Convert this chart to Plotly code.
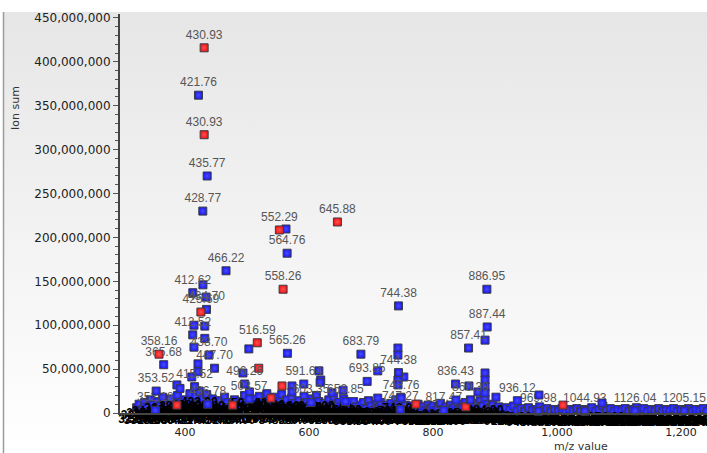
import base64
import plotly.graph_objects as go

# ---------------- data (m/z, ion sum in millions) ----------------
blue_lbl_mz = [421.76, 435.77, 428.77, 564.76, 466.22, 412.62, 434.70, 412.52, 438.70, 447.70,
               415.52, 353.52, 365.68, 496.26, 503.57, 565.26, 591.64, 658.85, 683.79, 693.85,
               744.38, 744.38, 748.76, 836.43, 857.41, 860.39, 886.95, 887.44, 936.12, 436.78, 603.35]
blue_lbl_int = [362, 270, 230, 182, 162, 137, 118, 89, 66, 51,
                30, 25, 55, 33, 16, 68, 33, 13, 67, 36,
                122, 46, 17, 33, 74, 15, 141, 98, 14, 10, 12]

red_lbl_mz = [430.93, 430.93, 552.29, 645.88, 558.26, 425.69, 358.16, 516.59]
red_lbl_int = [416, 317, 208.5, 217.6, 141, 115, 67, 80]

blue_mz = [562.9, 429.0, 434.0, 414.5, 432.0, 414.5, 432.0, 421.0, 421.0, 411.0,
           503.0, 493.5, 572.6, 572.6, 616.0, 619.0, 655.0, 884.0, 743.5, 743.5,
           711.0, 753.0, 743.5, 743.5, 858.0, 872.6, 884.0, 884.0, 884.0, 884.0,
           901.6, 971.0, 837.0, 711.0, 1072.6, 387.0, 618.0, 637.0, 392.0]
blue_int = [209.6, 146, 132, 100, 99, 75, 85, 56, 47, 41,
            73, 45.6, 30.8, 24, 48, 37.6, 26, 83, 74, 66,
            48, 41, 37.6, 32, 30.8, 24, 45.6, 37.6, 29.6, 22.8,
            18, 20.5, 14.8, 17, 11.4, 32, 35, 23, 28]

red_mz = [556.5, 538.7, 387.0, 477.0, 772.6, 853.0, 1009.7, 519.0]
red_int = [30.8, 17, 9, 9, 10, 7, 9, 51]

low_lbl_mz = [969.98, 1044.93, 1126.04, 1205.15, 817.47, 747.27, 352.18]
low_lbl_int = [2, 2, 2.5, 2.5, 3, 4, 3]

base_mz = [322, 326, 331, 335, 339, 344, 348, 352, 356, 360, 364, 368, 372, 376, 380, 384, 388,
           392, 396, 400, 404, 408, 411, 414, 417, 420, 423, 426, 429, 432, 435, 438, 441, 444,
           448, 452, 456, 460, 464, 468, 472, 476, 480, 484, 488, 492, 496, 500, 504, 508, 512,
           516, 520, 524, 528, 532, 536, 540, 544, 548, 552, 556, 560, 564, 568, 572, 576, 580,
           584, 588, 592, 596, 600, 604, 608, 612, 616, 620, 624, 628, 632, 636, 640, 644, 648,
           652, 656, 660, 664, 668, 672, 676, 680, 684, 688, 692, 696, 700, 704, 708, 712, 716,
           720, 724, 728, 732, 736, 740, 744, 748, 752, 756, 760, 764, 768, 772, 776, 780, 784,
           788, 792, 796, 800, 804, 808, 812, 816, 820, 824, 828, 832, 836, 840, 844, 848, 852,
           856, 860, 864, 868, 872, 876, 880, 884, 888, 892, 896, 900, 906, 912, 918, 924, 930,
           936, 942, 948, 954, 960, 966, 972, 978, 984, 990, 996, 1002, 1008, 1014, 1020, 1026,
           1032, 1038, 1044, 1050, 1056, 1062, 1068, 1074, 1080, 1086, 1092, 1098, 1104, 1110,
           1116, 1122, 1128, 1134, 1140, 1146, 1152, 1158, 1164, 1170, 1176, 1182, 1188, 1194,
           1200, 1206, 1212, 1218, 1224, 1230, 1236, 1242]
base_int = [6, 10, 4, 12, 7, 15, 9, 5, 13, 8, 18, 6, 11, 16, 4, 9, 20,
            12, 7, 15, 10, 22, 5, 14, 19, 8, 25, 12, 17, 6, 21, 13, 9, 16,
            11, 5, 14, 8, 18, 12, 6, 10, 15, 4, 9, 13, 20, 7, 24, 11, 16,
            6, 19, 12, 8, 22, 14, 9, 18, 5, 13, 21, 10, 15, 7, 17, 11, 5,
            14, 8, 19, 12, 6, 16, 10, 20, 13, 7, 11, 4, 15, 9, 18, 6, 12,
            8, 16, 5, 10, 3, 13, 7, 4, 9, 12, 5, 14, 8, 3, 10, 6, 12,
            4, 9, 5, 11, 7, 15, 10, 18, 6, 9, 4, 8, 3, 6, 10, 4, 7,
            3, 9, 5, 8, 3, 6, 11, 4, 7, 3, 9, 5, 8, 4, 10, 6, 12,
            5, 9, 7, 11, 5, 14, 8, 16, 10, 6, 9, 4, 7, 3, 6, 4, 8,
            3, 5, 2, 6, 3, 4, 7, 3, 5, 2, 4, 3, 5, 2, 4, 3,
            5, 2, 4, 3, 6, 2, 4, 8, 3, 5, 2, 4, 3, 5,
            2, 4, 6, 3, 5, 2, 4, 3, 5, 2, 4, 3, 5, 2,
            4, 3, 5, 2, 4, 3, 5, 2]

y_ticks = [0, 50, 100, 150, 200, 250, 300, 350, 400, 450]
x_ticks = [400, 600, 800, 1000, 1200]

M = 1e6
BLUE = "#1c1cf2"
RED = "#f01818"
EDGE = "#3c3c46"
LBL_FONT = dict(family="Liberation Sans, Arial", size=12, color="#565656")


def mk(color, center):
    return dict(symbol="square", size=8, color=color,
                line=dict(color=EDGE, width=1),
                gradient=dict(type="radial", color=center))


fig = go.Figure()

fig.add_trace(go.Scatter(
    x=base_mz, y=[v * M for v in base_int], mode="markers+text",
    text=[f"{v:.2f}" for v in base_mz], textposition="bottom center",
    textfont=dict(family="Liberation Sans, Arial", size=12, color="#000000", weight="bold"),
    marker=mk(BLUE, "#4a4aff"), cliponaxis=False, hoverinfo="skip", showlegend=False))

fig.add_trace(go.Scatter(
    x=low_lbl_mz, y=[v * M for v in low_lbl_int], mode="markers+text",
    text=[f"{v:.2f}" for v in low_lbl_mz], textposition="top center", textfont=LBL_FONT,
    marker=mk(BLUE, "#4a4aff"), cliponaxis=False, showlegend=False))

fig.add_trace(go.Scatter(
    x=blue_mz, y=[v * M for v in blue_int], mode="markers",
    marker=mk(BLUE, "#4a4aff"), cliponaxis=False, showlegend=False))

fig.add_trace(go.Scatter(
    x=red_mz, y=[v * M for v in red_int], mode="markers",
    marker=mk(RED, "#ff5050"), cliponaxis=False, showlegend=False))

fig.add_trace(go.Scatter(
    x=blue_lbl_mz, y=[v * M for v in blue_lbl_int], mode="markers+text",
    text=[f"{v:.2f}" for v in blue_lbl_mz], textposition="top center", textfont=LBL_FONT,
    marker=mk(BLUE, "#4a4aff"), cliponaxis=False, showlegend=False))

fig.add_trace(go.Scatter(
    x=red_lbl_mz, y=[v * M for v in red_lbl_int], mode="markers+text",
    text=[f"{v:.2f}" for v in red_lbl_mz], textposition="top center", textfont=LBL_FONT,
    marker=mk(RED, "#ff5050"), cliponaxis=False, showlegend=False))

# background gradient panel
svg = ('<svg xmlns="http://www.w3.org/2000/svg" width="10" height="100" preserveAspectRatio="none">'
       '<defs><linearGradient id="g" x1="0" y1="0" x2="0" y2="1">'
       '<stop offset="0" stop-color="#e6e6e6"/><stop offset="1" stop-color="#ffffff"/>'
       '</linearGradient></defs><rect width="10" height="100" fill="url(#g)"/></svg>')
uri = "data:image/svg+xml;base64," + base64.b64encode(svg.encode()).decode()

W, H = 707, 453
L, R, T, B = 120, 0, 14, 40
pw, ph = W - L - R, H - T - B


def px(xp):
    return (xp - L) / pw


def py(yp):
    return (H - B - yp) / ph


fig.update_layout(
    width=W, height=H,
    margin=dict(l=L, r=R, t=T, b=B),
    paper_bgcolor="white", plot_bgcolor="rgba(0,0,0,0)",
    images=[dict(source=uri, xref="paper", yref="paper", x=px(3), y=py(12),
                 sizex=px(W) - px(3), sizey=py(12) - py(H), xanchor="left", yanchor="top",
                 sizing="stretch", layer="below")],
    shapes=[dict(type="line", xref="paper", yref="paper", x0=px(3.5), x1=px(3.5),
                 y0=py(12), y1=py(H), line=dict(color="#9c9c9c", width=1.5))],
    xaxis=dict(range=[295.2, 1242], tickvals=x_ticks, tickformat=",d",
               showgrid=False, zeroline=False, showline=True, linecolor="#444", linewidth=1.5,
               ticks="", ticklabelstandoff=8,
               tickfont=dict(family="DejaVu Sans", size=11, color="#222")),
    yaxis=dict(range=[0, 454.5 * M], tickvals=[v * M for v in y_ticks], tickformat=",d",
               showgrid=False, zeroline=False, showline=True, linecolor="#444", linewidth=2,
               ticks="outside", ticklen=5, tickcolor="#555", tickwidth=1,
               minor=dict(dtick=10 * M, ticks="outside", ticklen=3, tickcolor="#555", tickwidth=1),
               tickfont=dict(family="DejaVu Sans", size=12, color="#222")),
    annotations=[
        dict(text="Ion sum", xref="paper", yref="paper", x=px(15), y=py(108), textangle=-90,
             showarrow=False, font=dict(family="DejaVu Sans", size=11, color="#333"),
             xanchor="center", yanchor="middle"),
        dict(text="m/z value", xref="paper", yref="paper", x=px(581), y=py(447),
             showarrow=False, font=dict(family="DejaVu Sans", size=11, color="#333"),
             xanchor="center", yanchor="middle"),
    ],
)

fig.write_html("out.html", config={"displayModeBar": False},
               post_script="document.body.style.margin='0';")
